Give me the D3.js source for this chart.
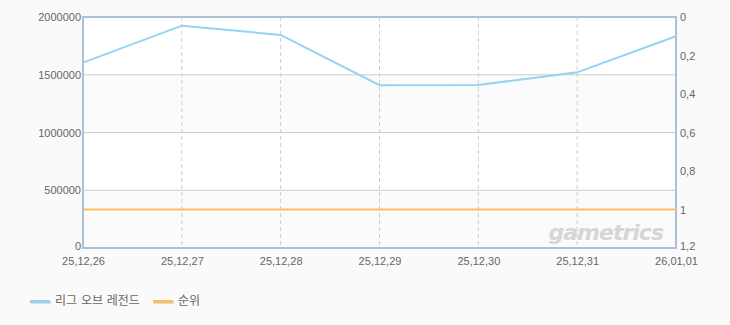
<!DOCTYPE html>
<html>
<head>
<meta charset="utf-8">
<script src="https://cdn.jsdelivr.net/npm/d3@7"></script>
<style>
  body { margin: 0; background: #fafafa; }
  svg { display: block; font-family: "DejaVu Sans", "Noto Sans CJK KR", sans-serif; }
</style>
</head>
<body>
<div id="chart"></div>
<script>
// chart data
const dates = ['25.12.26', '25.12.27', '25.12.28', '25.12.29', '25.12.30', '25.12.31', '26.01.01'];
const players = [1605000, 1925000, 1845000, 1410000, 1412000, 1521000, 1833000];
const ranks = [1, 1, 1, 1, 1, 1, 1];
const leftTicks = [0, 500000, 1000000, 1500000, 2000000];
const rightTicks = [0, 0.2, 0.4, 0.6, 0.8, 1, 1.2];
const seriesNames = ['리그 오브 레전드', '순위'];

const width = 730, height = 325;
const margin = {top: 17, right: 54, bottom: 77, left: 83};
const innerW = width - margin.left - margin.right;
const innerH = height - margin.top - margin.bottom;

const svg = d3.select('#chart')
  .append('svg')
  .attr('width', width)
  .attr('height', height);

const g = svg.append('g').attr('transform', `translate(${margin.left},${margin.top})`);

const x = d3.scalePoint().domain(dates).range([0, innerW]);
const y = d3.scaleLinear().domain([0, 2000000]).range([innerH, 0]);
const yr = d3.scaleLinear().domain([0, 1.2]).range([0, innerH]);

// alternating bands
const bands = d3.pairs(leftTicks);
g.selectAll('rect.band')
  .data(bands)
  .join('rect')
  .attr('x', 0)
  .attr('y', d => y(d[1]))
  .attr('width', innerW)
  .attr('height', d => y(d[0]) - y(d[1]))
  .attr('fill', (d, i) => i % 2 === 0 ? '#fbfbfb' : '#ffffff');

// horizontal grid
g.selectAll('line.hgrid')
  .data(leftTicks.slice(1, -1))
  .join('line')
  .attr('x1', 0).attr('x2', innerW)
  .attr('y1', d => y(d)).attr('y2', d => y(d))
  .attr('stroke', '#cccccc');

// vertical dashed grid
g.selectAll('line.vgrid')
  .data(dates.slice(1, -1))
  .join('line')
  .attr('x1', d => x(d)).attr('x2', d => x(d))
  .attr('y1', 0).attr('y2', innerH)
  .attr('stroke', '#cccccc')
  .attr('stroke-dasharray', '4,3');

// watermark
g.append('text')
  .attr('x', innerW - 13)
  .attr('y', innerH - 8)
  .attr('text-anchor', 'end')
  .attr('font-size', 22)
  .attr('font-weight', 'bold')
  .attr('font-style', 'italic')
  .attr('fill', '#d6d6d6')
  .attr('letter-spacing', -1)
  .text('gametrics');

// frame
g.append('rect')
  .attr('x', 0).attr('y', 0)
  .attr('width', innerW).attr('height', innerH)
  .attr('fill', 'none')
  .attr('stroke', '#adc0d6')
  .attr('stroke-width', 2);

// lines
const line = d3.line().x((d, i) => x(dates[i])).y(d => y(d));
g.append('path')
  .datum(players)
  .attr('d', line)
  .attr('fill', 'none')
  .attr('stroke', '#94d3f2')
  .attr('stroke-width', 2);

const rankLine = d3.line().x((d, i) => x(dates[i])).y(d => yr(d));
g.append('path')
  .datum(ranks)
  .attr('d', rankLine)
  .attr('fill', 'none')
  .attr('stroke', '#fbbd5e')
  .attr('stroke-width', 2);

// axes
const leftAxis = g.append('g')
  .call(d3.axisLeft(y).tickValues(leftTicks).tickSize(0).tickPadding(2).tickFormat(d3.format('d')));
const rightAxis = g.append('g')
  .attr('transform', `translate(${innerW},0)`)
  .call(d3.axisRight(yr).tickValues(rightTicks).tickSize(0).tickPadding(4)
    .tickFormat(d => d3.format('~g')(d).replace('.', ',')));
const bottomAxis = g.append('g')
  .attr('transform', `translate(0,${innerH})`)
  .call(d3.axisBottom(x).tickSize(0).tickPadding(9).tickFormat(d => d.replace(/\./g, ',')));

[leftAxis, rightAxis, bottomAxis].forEach(a => {
  a.select('.domain').remove();
  a.selectAll('text').attr('fill', '#666').attr('font-size', 11);
});
// zero / bottom labels sit a bit higher than their ticks
leftAxis.selectAll('text').filter(d => d === 0).attr('dy', '0.1em');
rightAxis.selectAll('text').filter(d => d === 1.2).attr('dy', '0.1em');

// legend
const colors = ['#94d3f2', '#fbbd5e'];
const legendX = [30, 153];
const legend = svg.append('g').attr('transform', 'translate(0,301)');
const items = legend.selectAll('g')
  .data(seriesNames)
  .join('g')
  .attr('transform', (d, i) => `translate(${legendX[i]},0)`);
items.append('rect')
  .attr('x', 1).attr('y', 0)
  .attr('width', 20).attr('height', 3)
  .attr('fill', '#ddd');
items.append('rect')
  .attr('x', 0).attr('y', -1)
  .attr('width', 20).attr('height', 3)
  .attr('fill', (d, i) => colors[i]);
items.append('text')
  .attr('x', 25).attr('y', 4)
  .attr('font-size', 12)
  .attr('fill', '#666')
  .text(d => d);
</script>
</body>
</html>
